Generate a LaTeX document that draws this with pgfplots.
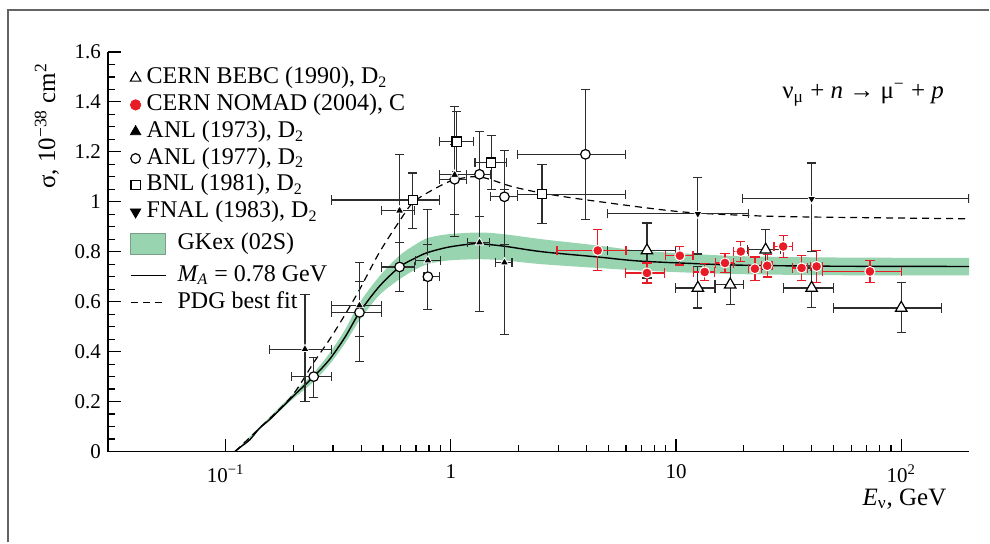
\documentclass[border=0pt]{standalone}
\usepackage{pgfplots}
\usepackage{pgfplotstable}
\pgfplotsset{compat=1.18}
\usepgfplotslibrary{fillbetween}
\usepackage{fontspec}
\setmainfont{Liberation Serif}
\definecolor{band}{RGB}{152,212,176}
\definecolor{bandedge}{RGB}{120,160,135}
\definecolor{nred}{RGB}{232,28,38}
\definecolor{ebar}{RGB}{45,45,45}
\definecolor{frame}{RGB}{100,100,100}

% columns: x y xlo xhi ylo yhi
\pgfplotstableread{
x y xl xh yl yh
7.43 0.805 4.97 9.94 0.695 0.915
12.5 0.655 9.94 14.9 0.575 0.741
17.4 0.668 14.9 20.0 0.588 0.752
25.0 0.808 20.7 29.1 0.728 0.888
40.0 0.655 30.1 49.9 0.577 0.735
100 0.575 50.2 150.6 0.477 0.677
}\bebc
\pgfplotstableread{
x y xl xh yl yh
4.49 0.805 2.96 6.0 0.725 0.888
7.43 0.715 5.96 8.91 0.675 0.755
10.4 0.784 8.97 11.9 0.747 0.821
13.4 0.719 12.0 14.8 0.684 0.754
16.5 0.755 15.0 18.0 0.718 0.792
19.4 0.801 18.0 20.9 0.761 0.841
22.4 0.732 21.0 24.0 0.685 0.779
25.4 0.744 24.0 26.7 0.699 0.789
29.9 0.821 27.2 32.8 0.778 0.864
36.1 0.735 32.8 38.2 0.686 0.784
42.1 0.741 39.6 44.6 0.677 0.805
72.6 0.721 44.6 100 0.677 0.764
}\nomad
\pgfplotstableread{
x y xl xh yl yh
0.225 0.41 0.156 0.294 0.20 0.63
0.393 0.585 0.294 0.494 0.46 0.68
0.592 0.965 0.494 0.688 0.75 1.19
0.791 0.765 0.695 0.897 0.57 0.97
1.04 1.108 0.891 1.17 0.86 1.38
1.34 0.837 1.19 1.49 0.56 1.12
1.73 0.757 1.585 1.87 0.47 1.05
}\anlA
\pgfplotstableread{
x y xl xh yl yh
0.246 0.30 0.196 0.294 0.215 0.375
0.393 0.557 0.294 0.494 0.36 0.757
0.592 0.739 0.494 0.688 0.64 0.836
0.791 0.70 0.76 0.891 0.57 0.83
1.04 1.09 0.891 1.17 0.95 1.23
1.34 1.11 1.17 1.50 0.94 1.28
1.73 1.02 1.50 1.98 0.83 1.205
3.96 1.19 1.98 5.96 0.93 1.448
}\anlB
\pgfplotstableread{
x y xl xh yl yh
0.678 1.007 0.294 0.891 0.892 1.115
1.06 1.241 0.891 1.26 1.12 1.36
1.51 1.157 1.28 1.77 1.048 1.264
2.54 1.03 1.98 5.96 0.912 1.148
}\bnl
\pgfplotstableread{
x y xl xh yl yh
12.5 0.952 4.97 21.0 0.791 1.097
40.0 1.012 19.8 200 0.80 1.155
}\fnal
\pgfplotstableread{
x y
0.11 0
0.118 0.022
0.128 0.047
0.142 0.095
0.16 0.135
0.196 0.215
0.246 0.30
0.29 0.37
0.34 0.46
0.393 0.557
0.48 0.66
0.592 0.739
0.70 0.776
0.79 0.797
0.97 0.818
1.2 0.83
1.34 0.832
1.73 0.822
2.54 0.80
4.49 0.779
6.8 0.763
12.5 0.752
20 0.746
50 0.742
200 0.741
}\solidc
\pgfplotstableread{
x lo hi
0.11 0 0
0.142 0.09 0.10
0.196 0.205 0.225
0.246 0.28 0.315
0.29 0.35 0.395
0.34 0.435 0.49
0.393 0.525 0.595
0.48 0.625 0.70
0.592 0.69 0.785
0.70 0.73 0.83
0.79 0.75 0.855
0.97 0.765 0.87
1.34 0.77 0.877
1.73 0.765 0.87
2.54 0.75 0.85
4.49 0.735 0.825
6.8 0.725 0.805
12.5 0.715 0.79
20 0.71 0.782
50 0.706 0.777
200 0.705 0.775
}\bandt
\pgfplotstableread{
x y
0.11 0
0.142 0.095
0.196 0.22
0.246 0.356
0.29 0.45
0.34 0.55
0.393 0.648
0.48 0.795
0.59 0.921
0.685 1.0
0.88 1.06
1.04 1.088
1.34 1.10
1.87 1.061
2.54 1.035
3.96 1.008
10.2 0.961
21 0.945
40 0.939
200 0.932
}\pdg

\pgfplotsset{
  ebs/.style={only marks,
    error bars/x dir=both, error bars/y dir=both,
    error bars/x explicit, error bars/y explicit,
    error bars/error bar style={line width=0.6pt, color=#1},
    error bars/error mark options={rotate=90, line width=0.6pt, mark size=2.3pt, color=#1}},
  ebs/.default=ebar,
  /pgfplots/table/ebt/.style={x=x, y=y,
    x error plus expr=\thisrow{xh}-\thisrow{x},
    x error minus expr=\thisrow{x}-\thisrow{xl},
    y error plus expr=\thisrow{yh}-\thisrow{y},
    y error minus expr=\thisrow{y}-\thisrow{yl}},
  mklegend/.style={legend image code/.code={\path[draw=none] (0pt,0pt) -- (17.5pt,0pt); \draw plot coordinates {(2.5pt,0pt)};}},
  lnlegend/.style={legend image code/.code={\draw[black, line width=0.7pt] (0pt,0pt) -- (17.5pt,0pt);}},
  dslegend/.style={legend image code/.code={\draw[black, line width=0.6pt, dash pattern=on 3.5pt off 2.5pt] (0pt,0pt) -- (17.5pt,0pt);}},
  bdlegend/.style={legend image code/.code={\path[draw=none] (0pt,-9.2pt) -- (0pt,9.2pt); \draw[fill=band, draw=bandedge, line width=0.6pt] (0pt,-5.25pt) rectangle (17.5pt,5.25pt);}},
}

\begin{document}
\begin{tikzpicture}
\path (0pt,0pt) rectangle (495pt,271.5pt);
\draw[frame, line width=1pt] (4pt,0pt) -- (4pt,266.5pt) -- (495pt,266.5pt);
\begin{axis}[
  at={(54pt,45.5pt)}, anchor=south west,
  scale only axis, width=431pt, height=200pt,
  xmode=log, xmin=0.03, xmax=200, ymin=0, ymax=1.6,
  axis x line=bottom, axis y line=left,
  axis line style={-, line width=0.7pt, black},
  tick align=inside,
  major tick length=6.5pt, minor tick length=3.5pt,
  tick style={line width=0.6pt, black},
  xtick={0.1,1,10,100},
  xticklabels={10\textsuperscript{−1},1,10,10\textsuperscript{2}},
  ytick={0,0.2,...,1.6},
  minor y tick num=3,
  yticklabel style={/pgf/number format/fixed},
  /pgf/number format/assume math mode=true,
  tick label style={font=\fontsize{10.5}{12}\selectfont},
  xticklabel style={yshift=-3pt},
  ylabel={σ, 10\textsuperscript{−38} cm\textsuperscript{2}},
  ylabel style={at={(axis description cs:-0.0708,0.815)}, anchor=center, font=\fontsize{12.5}{14}\selectfont},
  xlabel={\textit{E}\textsubscript{ν}, GeV},
  xlabel style={at={(axis description cs:0.925,-0.118)}, anchor=center, font=\fontsize{12.5}{14}\selectfont},
  legend cell align=left,
  legend style={at={(axis description cs:0.0251,0.969)}, anchor=north west,
    draw=none, fill=none, inner sep=0pt, row sep=0pt,
    font=\fontsize{12}{14}\selectfont,
    nodes={inner sep=1.2pt, text height=8.4pt, text depth=2.6pt},
    /tikz/column sep=4.5pt},
  clip=true,
]
% legend
\addlegendimage{only marks, mark=triangle*, mark size=3pt, mark options={fill=white, draw=black, line width=0.6pt}, mklegend}
\addlegendentry{\hspace*{-15.5pt}CERN BEBC (1990), D\textsubscript{2}}
\addlegendimage{only marks, mark=*, mark size=2.6pt, mark options={fill=nred, draw=nred}, mklegend}
\addlegendentry{\hspace*{-15.5pt}CERN NOMAD (2004), C}
\addlegendimage{only marks, mark=triangle*, mark size=3pt, mark options={fill=black, draw=black}, mklegend}
\addlegendentry{\hspace*{-15.5pt}ANL (1973), D\textsubscript{2}}
\addlegendimage{only marks, mark=*, mark size=2.4pt, mark options={fill=white, draw=black, line width=0.6pt}, mklegend}
\addlegendentry{\hspace*{-15.5pt}ANL (1977), D\textsubscript{2}}
\addlegendimage{only marks, mark=square*, mark size=2.3pt, mark options={fill=white, draw=black, line width=0.6pt}, mklegend}
\addlegendentry{\hspace*{-15.5pt}BNL (1981), D\textsubscript{2}}
\addlegendimage{only marks, mark=triangle*, mark size=3pt, mark options={fill=black, draw=black, rotate=180}, mklegend}
\addlegendentry{\hspace*{-15.5pt}FNAL (1983), D\textsubscript{2}}
\addlegendimage{bdlegend}
\addlegendentry{GKex (02S)}
\addlegendimage{lnlegend}
\addlegendentry{\textit{M\textsubscript{A}} = 0.78 GeV}
\addlegendimage{dslegend}
\addlegendentry{PDG best fit}

% band
\addplot[name path=lo, draw=none, forget plot, smooth] table[x=x, y=lo] {\bandt};
\addplot[name path=hi, draw=none, forget plot, smooth] table[x=x, y=hi] {\bandt};
\addplot[band, draw=none, forget plot] fill between[of=lo and hi];
% curves
\addplot[black, line width=0.7pt, smooth, tension=0.5, forget plot] table[x=x,y=y] {\solidc};
\addplot[black, line width=0.6pt, dash pattern=on 3.5pt off 2.5pt, smooth, tension=0.5, forget plot] table[x=x,y=y] {\pdg};
% data
\addplot[ebs, forget plot, mark=square*, mark size=2.3pt, mark options={fill=white, draw=black, line width=0.6pt}] table[ebt] {\bnl};
\addplot[ebs, forget plot, mark=*, mark size=2.4pt, mark options={fill=white, draw=black, line width=0.6pt}] table[ebt] {\anlB};
\addplot[ebs, forget plot, mark=triangle*, mark size=2.4pt, mark options={fill=black, draw=white, line width=0.4pt}] table[ebt] {\anlA};
\addplot[ebs, forget plot, mark=triangle*, mark size=2.4pt, mark options={fill=black, draw=white, line width=0.4pt, rotate=180}] table[ebt] {\fnal};
\addplot[ebs, forget plot, mark=triangle*, mark size=3.3pt, mark options={fill=white, draw=black, line width=0.6pt}] table[ebt] {\bebc};
\addplot[ebs=nred, forget plot, mark=*, mark size=2.5pt, mark options={fill=nred, draw=white, line width=0.5pt}] table[ebt] {\nomad};
\node[font=\fontsize{12.5}{14}\selectfont, anchor=center] at (axis description cs:0.877,0.893)
  {ν\textsubscript{μ} + \textit{n} → μ\textsuperscript{−} + \textit{p}};
\end{axis}
\end{tikzpicture}
\end{document}
